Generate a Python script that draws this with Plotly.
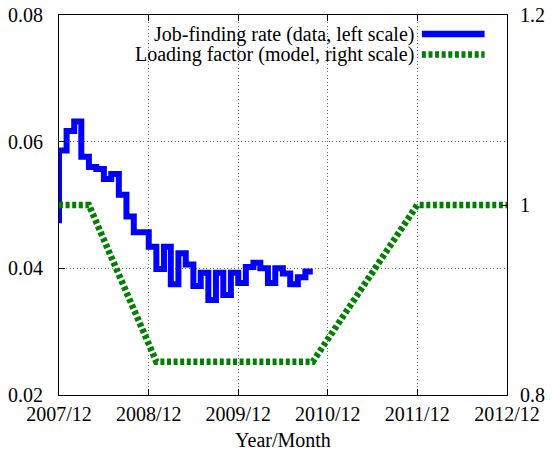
import plotly.graph_objects as go

# Job-finding rate (data, left scale), monthly from 2007/12
rate_months = [
    "2007-12", "2008-01", "2008-02", "2008-03", "2008-04", "2008-05", "2008-06",
    "2008-07", "2008-08", "2008-09", "2008-10", "2008-11", "2008-12", "2009-01",
    "2009-02", "2009-03", "2009-04", "2009-05", "2009-06", "2009-07", "2009-08",
    "2009-09", "2009-10", "2009-11", "2009-12", "2010-01", "2010-02", "2010-03",
    "2010-04", "2010-05", "2010-06", "2010-07", "2010-08", "2010-09", "2010-10",
]
rate_values = [
    0.0471, 0.0586, 0.0617, 0.0632, 0.0576, 0.0560, 0.0557,
    0.0541, 0.0549, 0.0516, 0.0482, 0.0457, 0.0457, 0.0434,
    0.0399, 0.0434, 0.0375, 0.0424, 0.0406, 0.0372, 0.0393,
    0.0350, 0.0393, 0.0358, 0.0393, 0.0377, 0.0402, 0.0409,
    0.0400, 0.0377, 0.0400, 0.0392, 0.0375, 0.0386, 0.0395,
]

# Loading factor (model, right scale)
factor_months = ["2007-12", "2008-04", "2009-01", "2010-10", "2011-12", "2012-12"]
factor_values = [1.0, 1.0, 0.835, 0.835, 1.0, 1.0]

x_tickvals = ["2007-12-01", "2008-12-01", "2009-12-01", "2010-12-01", "2011-12-01", "2012-12-01"]
x_ticktext = ["2007/12", "2008/12", "2009/12", "2010/12", "2011/12", "2012/12"]
y_tickvals = [0.02, 0.04, 0.06, 0.08]
y_ticktext = ["0.02", "0.04", "0.06", "0.08"]
y2_tickvals = [0.8, 1.0, 1.2]
y2_ticktext = ["0.8", "1", "1.2"]

label_rate = "Job-finding rate (data, left scale)"
label_factor = "Loading factor (model, right scale)"

FONT = "Liberation Serif, Times New Roman, serif"
BLUE = "#0000ff"
GREEN = "#008000"
GREEN_DASH = "4px,2.6px"
GRID = "#707070"
GRID_DASH = "1px,2.5px"

fig = go.Figure()
fig.add_trace(go.Scatter(
    x=rate_months, y=rate_values, mode="lines", line_shape="vh",
    line=dict(color=BLUE, width=6), name=label_rate, yaxis="y",
))
fig.add_trace(go.Scatter(
    x=factor_months, y=factor_values, mode="lines",
    line=dict(color=GREEN, width=6.5, dash=GREEN_DASH), name=label_factor, yaxis="y2",
))

# gnuplot-style legend: right-aligned text with line sample on the right
legend_rows = [(label_rate, BLUE, None, 0.950), (label_factor, GREEN, GREEN_DASH, 0.896)]
for text, color, dash, yy in legend_rows:
    fig.add_annotation(x=0.797, y=yy, xref="paper", yref="paper", text=text,
                       showarrow=False, xanchor="right", yanchor="middle",
                       font=dict(family=FONT, size=20, color="black"))
    fig.add_shape(type="line", xref="paper", yref="paper", x0=0.810, x1=0.950, y0=yy, y1=yy,
                  line=dict(color=color, width=6.5, dash=dash))

fig.update_layout(
    width=554, height=454,
    margin=dict(l=59, r=47, t=15, b=59),
    paper_bgcolor="white", plot_bgcolor="white",
    showlegend=False,
    font=dict(family=FONT, size=20, color="black"),
    xaxis=dict(
        type="date", range=["2007-12-01", "2012-12-01"], automargin=False,
        tickmode="array", tickvals=x_tickvals, ticktext=x_ticktext,
        showgrid=True, gridcolor=GRID, griddash=GRID_DASH, gridwidth=1,
        showline=True, linecolor="black", linewidth=1, mirror="ticks",
        ticks="inside", ticklen=6, tickcolor="black",
        zeroline=False, ticklabelstandoff=1,
        title=dict(text="Year/Month", font=dict(family=FONT, size=20), standoff=8),
    ),
    yaxis=dict(
        range=[0.02, 0.08], tickmode="array", tickvals=y_tickvals, ticktext=y_ticktext,
        automargin=False,
        showgrid=True, gridcolor=GRID, griddash=GRID_DASH, gridwidth=1,
        showline=True, linecolor="black", linewidth=1,
        ticks="inside", ticklen=6, tickcolor="black", zeroline=False,
        ticklabelstandoff=11,
    ),
    yaxis2=dict(
        range=[0.8, 1.2], tickmode="array", tickvals=y2_tickvals, ticktext=y2_ticktext,
        overlaying="y", side="right", showgrid=False, automargin=False,
        showline=True, linecolor="black", linewidth=1,
        ticks="inside", ticklen=6, tickcolor="black", zeroline=False,
        ticklabelstandoff=8,
    ),
)

fig.write_html("out.html", config={"displayModeBar": False},
               post_script="document.body.style.margin='0';")
